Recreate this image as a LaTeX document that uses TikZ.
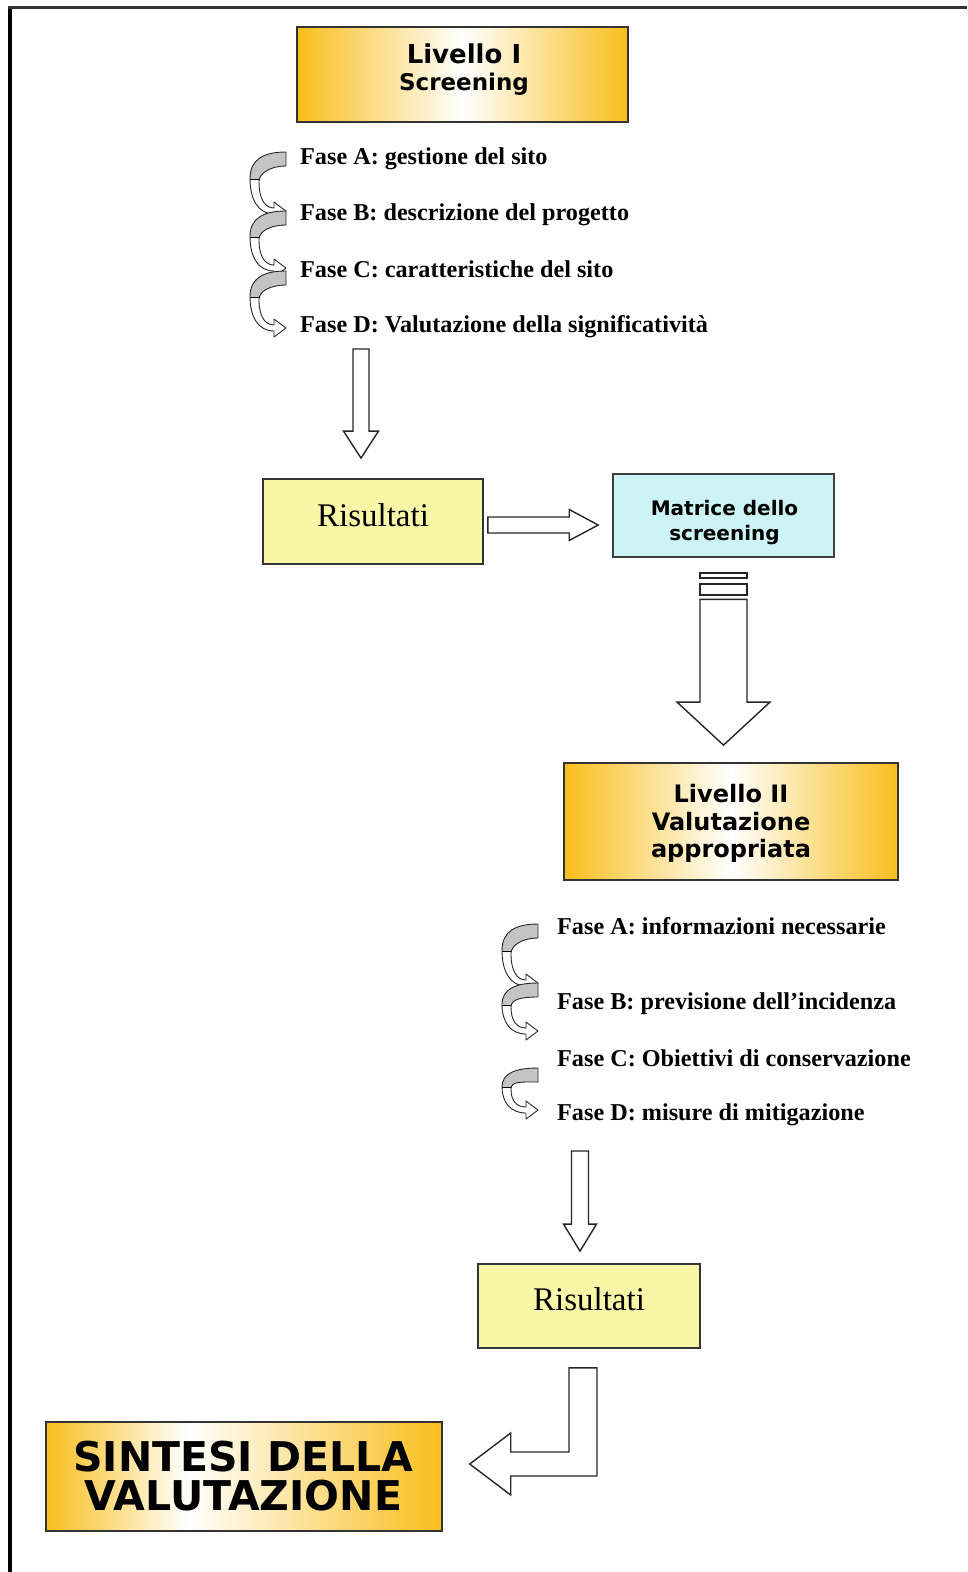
\documentclass[tikz,border=0pt]{standalone}
\usepackage{fontspec}
\setmainfont{Liberation Serif}
\newfontfamily\dvs{DejaVu Sans}
\usetikzlibrary{calc}
\definecolor{vgold}{RGB}{249,190,28}
\definecolor{ryel}{RGB}{250,246,168}
\definecolor{mcyan}{RGB}{204,244,246}
\definecolor{rgray}{RGB}{196,196,196}
\pgfdeclarehorizontalshading{goldleft}{100bp}{color(0bp)=(vgold); color(25bp)=(vgold); color(43bp)=(white); color(75bp)=(vgold); color(100bp)=(vgold)}
\tikzset{
 goldbox/.style={draw=black!80, line width=1.8, left color=vgold, right color=vgold, middle color=white, inner sep=0},
 sintbox/.style={draw=black!80, line width=1.8, shading=goldleft, inner sep=0},
 resbox/.style={draw=black!80, line width=1.8, fill=ryel, inner sep=0, text depth=13, font=\fontsize{33}{33}\selectfont},
 matbox/.style={draw=black!75, line width=1.6, fill=mcyan, inner sep=0},
 fase/.style={anchor=base west, inner sep=0, font=\fontsize{24.2}{25}\selectfont\bfseries},
 blockarrow/.style={draw=black!85, fill=white, line width=1.4, line join=miter},
 sanslbl/.style={anchor=base, inner sep=0},
}
\newcommand\twist[3]{%
 \pgfmathsetmacro\tH{#3-#2}%
 \begin{scope}[shift={(#1,#2)}]
  \def\tp{(0,0) -- (0,14) .. controls (-16,14) and (-27,\tH*0.5-8) .. (-27,\tH*0.5) .. controls (-27,\tH*0.8) and (-21,\tH-3) .. (-12,\tH-3) -- (-12,\tH-9) -- (0,\tH) -- (-12,\tH+9) -- (-12,\tH+3) .. controls (-28,\tH+3) and (-36,\tH*0.8) .. (-36,\tH*0.45) .. controls (-36,\tH*0.12) and (-22,0) .. (0,0) -- cycle}%
  \fill[white] \tp;
  \begin{scope}
   \clip \tp;
   \fill[rgray] (-45,-5) rectangle (5,\tH*0.47);
   \draw[line width=0.9] (-45,\tH*0.47) -- (5,\tH*0.47);
  \end{scope}
  \draw[line width=0.9, black!85, line join=round] \tp;
 \end{scope}}
\newcommand\downblock[5]{%
 \draw[blockarrow] let \p1=#1, \p2=#2 in
  (\x1-#3pt,\y1) -- (\x1+#3pt,\y1) -- (\x1+#3pt,\y2+#5pt) -- (\x1+#4pt,\y2+#5pt) -- (\x1,\y2) -- (\x1-#4pt,\y2+#5pt) -- (\x1-#3pt,\y2+#5pt) -- cycle;}
\newcommand\rightblock[5]{%
 \draw[blockarrow] let \p1=#1, \p2=#2 in
  (\x1,\y1+#3pt) -- (\x2-#5pt,\y1+#3pt) -- (\x2-#5pt,\y1+#4pt) -- (\x2,\y1) -- (\x2-#5pt,\y1-#4pt) -- (\x2-#5pt,\y1-#3pt) -- (\x1,\y1-#3pt) -- cycle;}
\begin{document}
\begin{tikzpicture}[x=1pt,y=-1pt]
\useasboundingbox (0,0) rectangle (967,1572);
% frame
\fill[black] (8,6) rectangle (12,1572);
\fill[black!80] (8,6) rectangle (967,8.7);

% Livello I
\node[goldbox, minimum width=331, minimum height=95] (L1) at (462.5,74.5) {};
\node[sanslbl, font=\dvs\bfseries\fontsize{26}{26}\selectfont] (L1a) at (464,63) {Livello I};
\node[sanslbl, font=\dvs\bfseries\fontsize{23}{23}\selectfont] (L1b) at (464,90) {Screening};

% spirals level I
\twist{286}{152}{211}
\twist{286}{211}{268}
\twist{286}{271}{328}
\node[fase] (fA1) at (300,164) {Fase A: gestione del sito};
\node[fase] (fB1) at (300,220) {Fase B: descrizione del progetto};
\node[fase] (fC1) at (300,277) {Fase C: caratteristiche del sito};
\node[fase] (fD1) at (300,332) {Fase D: Valutazione della significatività};

% Risultati 1 and Matrice
\node[resbox, minimum width=220, minimum height=85] (R1) at (373,521.5) {Risultati};
\node[matbox, minimum width=221, minimum height=83] (M) at (723.5,515.5) {};
\node[sanslbl, font=\dvs\bfseries\fontsize{20}{20}\selectfont] (Ma) at (724.5,515) {Matrice dello};
\node[sanslbl, font=\dvs\bfseries\fontsize{20}{20}\selectfont] (Mb) at (724.5,540) {screening};

% Livello II
\node[goldbox, minimum width=334, minimum height=117] (L2) at (731,821.5) {};
\node[sanslbl, font=\dvs\bfseries\fontsize{24}{24}\selectfont] (L2a) at (731,802) {Livello II};
\node[sanslbl, font=\dvs\bfseries\fontsize{24}{24}\selectfont] (L2b) at (731,830) {Valutazione};
\node[sanslbl, font=\dvs\bfseries\fontsize{24}{24}\selectfont] (L2c) at (731,857) {appropriata};

% spirals level II
\twist{538}{924}{983}
\twist{538}{983}{1031}
\twist{538}{1068}{1110}
\node[fase] (fA2) at (557,934) {Fase A: informazioni necessarie};
\node[fase] (fB2) at (557,1009) {Fase B: previsione dell’incidenza};
\node[fase] (fC2) at (557,1066) {Fase C: Obiettivi di conservazione};
\node[fase] (fD2) at (557,1120) {Fase D: misure di mitigazione};

% Risultati 2 and Sintesi
\node[resbox, minimum width=222, minimum height=84] (R2) at (589,1306) {Risultati};
\node[sintbox, minimum width=396, minimum height=109] (S) at (243.8,1476.5) {};
\node[sanslbl, font=\dvs\bfseries\fontsize{41}{41}\selectfont] (Sa) at (243.5,1471.5) {SINTESI DELLA};
\node[sanslbl, font=\dvs\bfseries\fontsize{41}{41}\selectfont] (Sb) at (243.5,1510) {VALUTAZIONE};

% block arrows
\coordinate (a1s) at ($(fD1.base west)+(61,17)$);
\coordinate (a1e) at ($(R1.north)+(-12,-20)$);
\downblock{(a1s)}{(a1e)}{8}{17.5}{27}

\coordinate (a2s) at ($(R1.east)+(4,3.5)$);
\coordinate (a2e) at ($(M.west)+(-14,9.5)$);
\rightblock{(a2s)}{(a2e)}{8}{15.5}{29}

\draw[blockarrow] ($(M.south)+(-23.5,15)$) rectangle ($(M.south)+(23.5,20)$);
\draw[blockarrow] ($(M.south)+(-23.5,26)$) rectangle ($(M.south)+(23.5,37)$);
\coordinate (a3s) at ($(M.south)+(0,41.5)$);
\coordinate (a3e) at ($(L2.north)+(-7.5,-17)$);
\downblock{(a3s)}{(a3e)}{23.5}{46.5}{43}

\coordinate (a4s) at ($(fD2.base west)+(23,31)$);
\coordinate (a4e) at ($(R2.north)+(-9,-12)$);
\downblock{(a4s)}{(a4e)}{8.5}{16.5}{27}

\coordinate (a5s) at ($(R2.south)+(-6,19)$);
\coordinate (a5e) at ($(S.east)+(27,-12.5)$);
\draw[blockarrow] let \p1=(a5s), \p2=(a5e) in
  (\x1-14pt,\y1) -- (\x1+14pt,\y1) -- (\x1+14pt,\y2-12pt) -- (\x2+41pt,\y2-12pt) -- (\x2+41pt,\y2-31pt) -- (\x2,\y2) -- (\x2+41pt,\y2+31pt) -- (\x2+41pt,\y2+12pt) -- (\x1-14pt,\y2+12pt) -- cycle;
\end{tikzpicture}
\end{document}
